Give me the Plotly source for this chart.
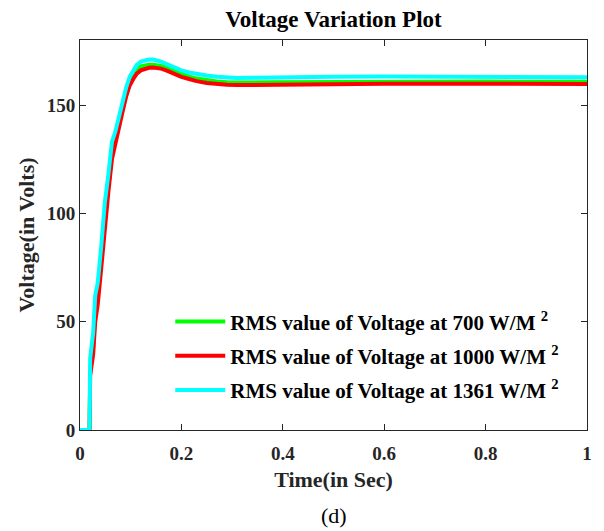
import plotly.graph_objects as go

t = [0, 0.019, 0.020, 0.026, 0.030, 0.035, 0.042, 0.049, 0.056, 0.063, 0.070, 0.077,
     0.084, 0.091, 0.098, 0.105, 0.112, 0.120, 0.128, 0.136, 0.144, 0.152, 0.160,
     0.170, 0.180, 0.190, 0.200, 0.215, 0.230, 0.250, 0.270, 0.290, 0.310, 0.340,
     0.380, 0.450, 0.500, 0.600, 0.700, 0.800, 0.900, 1.000]

v_700 = [0, 0, 28, 38, 54, 62, 79, 99, 113, 128, 135, 142,
         149, 156, 161, 164, 166.5, 167.8, 168.4, 168.6, 168.6, 168.4, 168,
         167.2, 166.2, 165.2, 164.2, 163.1, 162.2, 161.3, 160.8, 160.5, 160.3, 160.4,
         160.5, 160.6, 160.7, 160.8, 160.8, 160.8, 160.7, 160.7]

v_1000 = [0, 0, 25, 35, 50, 58, 75, 95, 110, 125, 133, 140,
          147, 154, 159, 162, 164.5, 166, 166.8, 167.2, 167.3, 167.2, 166.8,
          166, 165, 164, 163, 162, 161, 160.2, 159.6, 159.3, 159.2, 159.3,
          159.5, 159.6, 159.7, 159.8, 159.8, 159.8, 159.7, 159.7]

v_1361 = [0, 0, 33, 45, 62, 68, 85, 105, 118, 133, 138, 145,
          151, 158, 163, 166, 168.5, 170, 170.7, 171, 171, 170.7, 170,
          169, 168, 167, 166, 165, 164.3, 163.6, 163, 162.7, 162.5, 162.6,
          162.8, 163, 163, 163.1, 163, 163, 162.8, 162.8]

names = ["RMS value of Voltage at 700 W/M <sup>2</sup>",
         "RMS value of Voltage at 1000 W/M <sup>2</sup>",
         "RMS value of Voltage at 1361 W/M <sup>2</sup>"]
colors = ["#00FF00", "#FF0000", "#00FFFF"]
series = [v_700, v_1000, v_1361]

FONT = "Liberation Serif"

fig = go.Figure()
for i, (name, col, v) in enumerate(zip(names, colors, series)):
    fig.add_trace(go.Scatter(x=t, y=v, mode="lines", name=name,
                             line=dict(color=col, width=4),
                             legendgroup=f"g{i}"))

axis_common = dict(
    showline=True, linecolor="#262626", linewidth=1, mirror="ticks",
    ticks="inside", ticklen=6, tickcolor="#262626", showgrid=False, zeroline=False,
    tickfont=dict(family=FONT, size=19, color="#262626", weight="bold"),
)

fig.update_layout(
    width=604, height=531,
    margin=dict(l=80, r=15, t=40, b=101),
    paper_bgcolor="white", plot_bgcolor="white",
    title=dict(text="Voltage Variation Plot", xref="paper", x=0.5, xanchor="center",
               yref="container", y=0.964, yanchor="middle",
               font=dict(family=FONT, size=23, color="#000000", weight="bold")),
    xaxis=dict(range=[0, 1], tickvals=[0, 0.2, 0.4, 0.6, 0.8, 1], ticktext=["0", "0.2", "0.4", "0.6", "0.8", "1"],
               ticklabelstandoff=6,
               title=dict(text="Time(in Sec)", standoff=8,
                          font=dict(family=FONT, size=22, color="#262626", weight="bold")),
               **axis_common),
    yaxis=dict(range=[0, 180], tickvals=[0, 50, 100, 150],
               title=dict(text="Voltage(in Volts)", standoff=6,
                          font=dict(family=FONT, size=22, color="#262626", weight="bold")),
               **axis_common),
    legend=dict(x=0.178, y=0.33, xanchor="left", yanchor="top", bgcolor="rgba(0,0,0,0)",
                tracegroupgap=4, itemwidth=50,
                font=dict(family=FONT, size=21, color="#000000", weight="bold")),
)
fig.add_annotation(text="(d)", xref="paper", yref="paper", x=0.5, y=-0.22, yanchor="middle",
                   showarrow=False, font=dict(family=FONT, size=22, color="#000000"))

fig.write_html("out.html", config={"displayModeBar": False},
               post_script="document.body.style.margin='0';document.body.style.overflow='hidden';")
